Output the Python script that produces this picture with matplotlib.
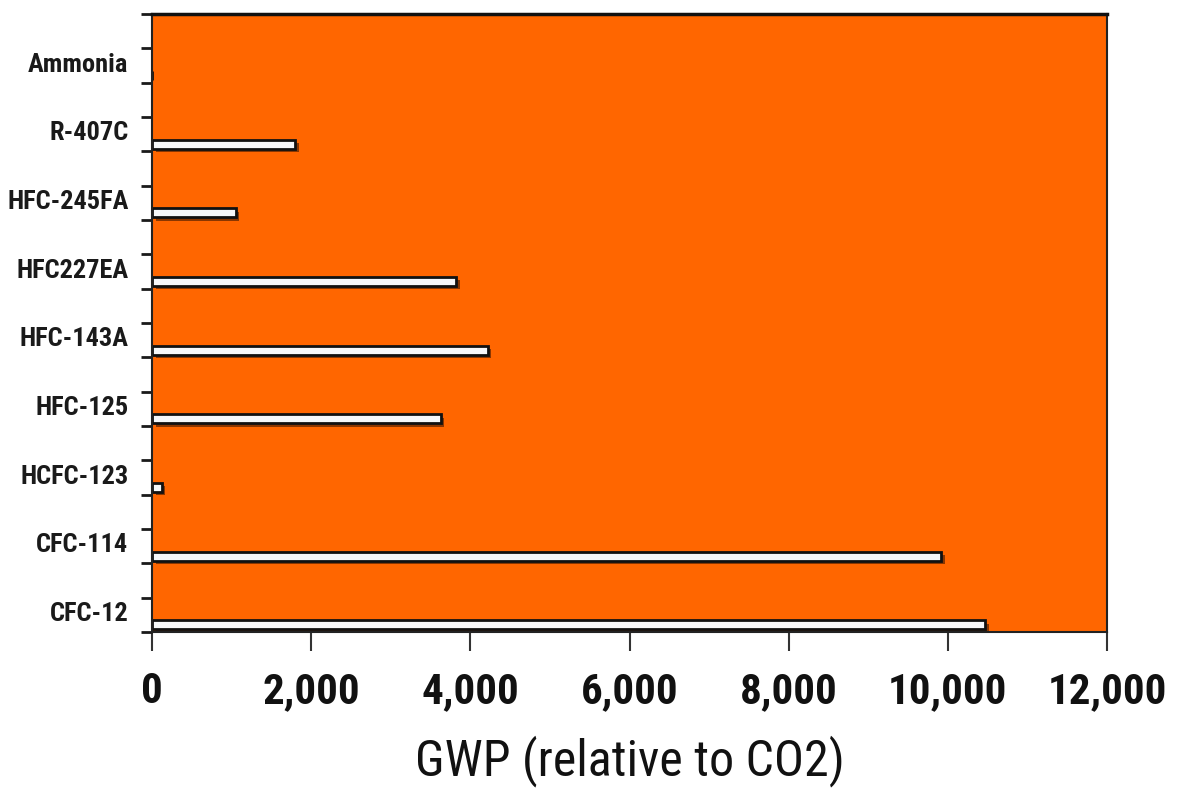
import matplotlib
matplotlib.use("Agg")
import matplotlib.pyplot as plt
import matplotlib.patheffects as pe
from matplotlib import font_manager
from matplotlib.font_manager import FontProperties
from matplotlib.ticker import NullFormatter

# Global warming potential of common refrigerants
refrigerants = ["Ammonia", "R-407C", "HFC-245FA", "HFC227EA", "HFC-143A",
                "HFC-125", "HCFC-123", "CFC-114", "CFC-12"]
gwp = [0, 1800, 1050, 3820, 4220, 3630, 120, 9920, 10470]

x_ticks = [0, 2000, 4000, 6000, 8000, 10000, 12000]
x_tick_labels = ["0", "2,000", "4,000", "6,000", "8,000", "10,000", "12,000"]
x_title = "GWP (relative to CO2)"


def pick_family(candidates):
    for name in candidates:
        try:
            font_manager.findfont(FontProperties(family=name),
                                  fallback_to_default=False)
            return name
        except ValueError:
            continue
    return "Liberation Sans"


narrow = pick_family(["Liberation Sans Narrow", "Arial Narrow",
                      "Roboto Condensed", "DejaVu Sans Condensed"])

fig = plt.figure(figsize=(11.86, 7.96), dpi=100)
ax = fig.add_axes([0.1282, 0.206, 0.8052, 0.7764])
ax.set_facecolor("#ff6600")

# each category occupies two tick intervals on the value axis
bar_pos = [1.79 + 2 * i for i in range(len(refrigerants))]
label_pos = [1.40 + 2 * i for i in range(len(refrigerants))]

ax.barh(bar_pos, gwp, height=0.26, color="#f6f8fa", edgecolor="#111111",
        linewidth=2.0,
        path_effects=[pe.SimplePatchShadow(offset=(2.5, -2.5),
                                           shadow_rgbFace="#2a1000",
                                           alpha=0.55),
                      pe.Normal()])

ax.set_xlim(0, 12000)
ax.set_ylim(18, 0)

ax.set_yticks(range(19))
ax.yaxis.set_major_formatter(NullFormatter())
ax.set_yticks(label_pos, minor=True)
ax.set_yticklabels(refrigerants, minor=True, fontfamily=narrow,
                   fontweight="bold", fontsize=19, color="#1a1a1a")
ax.tick_params(axis="y", which="major", length=8, width=2, color="#1a1a1a")
ax.tick_params(axis="y", which="minor", length=0, pad=17)

ax.set_xticks(x_ticks)
ax.set_xticklabels(x_tick_labels, fontfamily=narrow, fontweight="bold",
                   fontsize=31, color="#111111")
ax.tick_params(axis="x", length=14, width=1.5, color="#333333", pad=14)

ax.set_xlabel(x_title, fontfamily=narrow, fontsize=36, fontweight="normal",
              color="#111111", labelpad=17)

for side in ["left", "bottom", "right"]:
    ax.spines[side].set_linewidth(1.5)
    ax.spines[side].set_color("#222222")
ax.spines["top"].set_linewidth(2.5)
ax.spines["top"].set_color("#111111")

fig.savefig("out.png", dpi=100)
